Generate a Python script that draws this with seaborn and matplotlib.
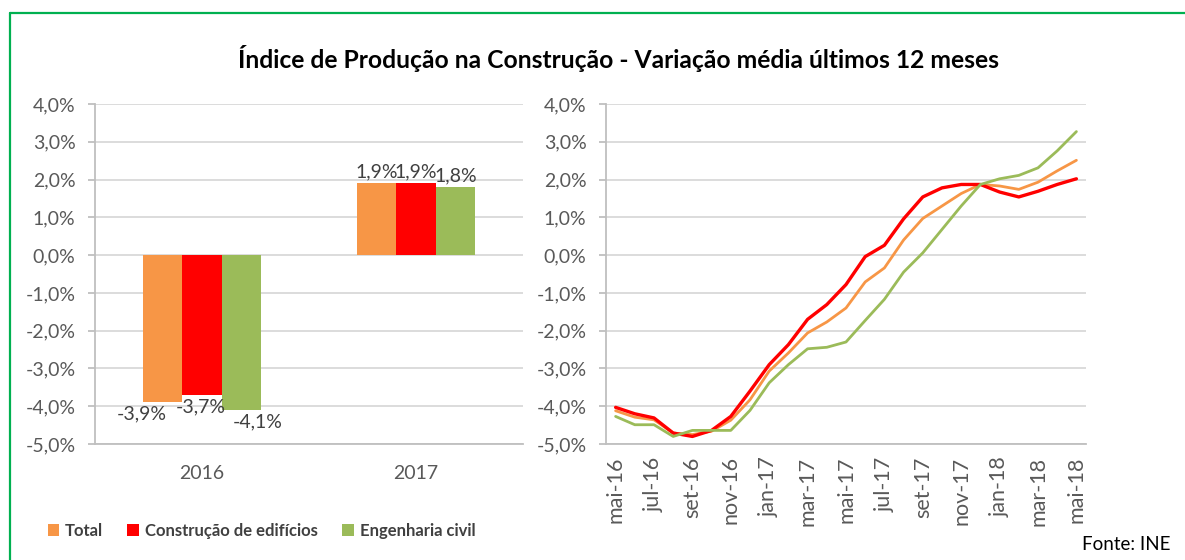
import matplotlib
matplotlib.use("Agg")
import matplotlib.pyplot as plt
from matplotlib.patches import Patch
from matplotlib.lines import Line2D
import seaborn as sns
import pandas as pd
import numpy as np

# ---------------- data ----------------
series_names = ["Total", "Construção de edifícios", "Engenharia civil"]
series_colors = ["#F79646", "#FF0000", "#9BBB59"]

bar_years = ["2016", "2017"]
bar_total = [-3.9, 1.9]
bar_edificios = [-3.7, 1.9]
bar_civil = [-4.1, 1.8]

months = ["mai-16", "jun-16", "jul-16", "ago-16", "set-16", "out-16", "nov-16", "dez-16",
          "jan-17", "fev-17", "mar-17", "abr-17", "mai-17", "jun-17", "jul-17", "ago-17",
          "set-17", "out-17", "nov-17", "dez-17", "jan-18", "fev-18", "mar-18", "abr-18", "mai-18"]
line_total = [-4.12, -4.29, -4.36, -4.71, -4.75, -4.66, -4.37, -3.83, -3.07, -2.59, -2.06, -1.77,
              -1.40, -0.71, -0.34, 0.40, 0.97, 1.30, 1.63, 1.87, 1.83, 1.74, 1.93, 2.23, 2.51]
line_edificios = [-4.03, -4.20, -4.31, -4.71, -4.80, -4.64, -4.27, -3.60, -2.90, -2.37, -1.70, -1.31,
                  -0.78, -0.04, 0.26, 0.96, 1.54, 1.78, 1.87, 1.87, 1.67, 1.54, 1.69, 1.87, 2.02]
line_civil = [-4.27, -4.49, -4.49, -4.80, -4.64, -4.64, -4.64, -4.11, -3.38, -2.90, -2.48, -2.44,
              -2.30, -1.73, -1.17, -0.45, 0.06, 0.68, 1.30, 1.87, 2.02, 2.11, 2.31, 2.76, 3.27]

yticks = [4, 3, 2, 1, 0, -1, -2, -3, -4, -5]

title = "Índice de Produção na Construção - Variação média últimos 12 meses"
source = "Fonte: INE"

# ---------------- style ----------------
sns.set_theme(style="white")
plt.rcParams["font.family"] = ["Lato", "DejaVu Sans"]

TICK_COLOR = "#595959"
LABEL_COLOR = "#404040"
GRID_COLOR = "#D9D9D9"
AXIS_COLOR = "#BFBFBF"

W, H = 1185, 560
fig = plt.figure(figsize=(W / 100, H / 100), dpi=100)

def fx(px):
    return px / W

def fy(py):
    return 1 - py / H

ax1 = fig.add_axes([fx(95), fy(444), fx(523) - fx(95), fy(104) - fy(444)])
ax2 = fig.add_axes([fx(606), fy(444), fx(1086) - fx(606), fy(104) - fy(444)])

def pct(v):
    return f"{v:.1f}%".replace(".", ",")

def style_y(ax, pad):
    ax.set_ylim(-5, 4)
    ax.set_yticks(yticks)
    ax.set_yticklabels([pct(v) for v in yticks])
    ax.yaxis.grid(True, color=GRID_COLOR, lw=1.3)
    ax.set_axisbelow(True)
    for s in ["top", "right"]:
        ax.spines[s].set_visible(False)
    for s in ["left", "bottom"]:
        ax.spines[s].set_color(AXIS_COLOR)
        ax.spines[s].set_linewidth(1.3)
    ax.tick_params(axis="y", length=5, width=1.3, color=AXIS_COLOR, pad=pad,
                   labelsize=14, labelcolor=TICK_COLOR, left=True)
    ax.set_xlabel("")
    ax.set_ylabel("")

# ---------------- bar chart ----------------
bar_df = pd.DataFrame({
    "year": bar_years * 3,
    "series": [series_names[0]] * 2 + [series_names[1]] * 2 + [series_names[2]] * 2,
    "value": bar_total + bar_edificios + bar_civil,
})
sns.barplot(data=bar_df, x="year", y="value", hue="series", hue_order=series_names,
            palette=series_colors, width=0.555, gap=0, legend=False, ax=ax1,
            saturation=1, linewidth=0)
ax1.set_xlim(-0.5, 1.5)
style_y(ax1, pad=9)
ax1.tick_params(axis="x", length=0, pad=15, labelsize=14, labelcolor=TICK_COLOR)

neg_nudge = [-21, -1, 16]
for i, cont in enumerate(ax1.containers):
    for patch in cont.patches:
        xc = patch.get_x() + patch.get_width() / 2
        lo = min(patch.get_y(), patch.get_y() + patch.get_height())
        hi = max(patch.get_y(), patch.get_y() + patch.get_height())
        if lo < 0:
            ax1.annotate(pct(lo), (xc, lo), xytext=(neg_nudge[i], -3),
                         textcoords="offset pixels", ha="center", va="top",
                         fontsize=14, color=LABEL_COLOR)
        else:
            ax1.annotate(pct(hi), (xc, hi), xytext=(0, 3),
                         textcoords="offset pixels", ha="center", va="bottom",
                         fontsize=14, color=LABEL_COLOR)

# ---------------- line chart ----------------
idx = list(range(len(months)))
line_df = pd.DataFrame({
    "idx": idx * 3,
    "series": [series_names[0]] * len(idx) + [series_names[1]] * len(idx) + [series_names[2]] * len(idx),
    "value": line_total + line_edificios + line_civil,
})
sns.lineplot(data=line_df, x="idx", y="value", hue="series", hue_order=series_names,
             palette=series_colors, legend=False, ax=ax2, sort=False, linewidth=2.1)
for ln, lw in zip(ax2.lines, [2.0, 2.4, 2.0]):
    ln.set_linewidth(lw)
ax2.set_xlim(-0.5, len(months) - 0.5)
style_y(ax2, pad=9)
ax2.set_xticks(idx[::2])
ax2.set_xticklabels(months[::2], rotation=90)
ax2.tick_params(axis="x", length=0, pad=9, labelsize=15.5, labelcolor=TICK_COLOR)

# ---------------- title, legend, source ----------------
fig.text(fx(618), fy(58), title, ha="center", va="center", fontsize=17.7,
         fontweight="bold", color="#000000")

handles = [Patch(facecolor=c, edgecolor="none", label=n) for n, c in zip(series_names, series_colors)]
leg = fig.legend(handles=handles, loc="center left", bbox_to_anchor=(fx(41), fy(531)),
                 ncol=3, frameon=False, handlelength=0.7, handleheight=0.7,
                 handletextpad=0.35, columnspacing=1.45, borderaxespad=0,
                 prop={"weight": "bold", "size": 12})
for t in leg.get_texts():
    t.set_color(LABEL_COLOR)

fig.text(fx(1171), fy(545), source, ha="right", va="center", fontsize=13.5, color="#000000")

# green frame (top and left edges)
fig.add_artist(Line2D([fx(10), 1.0], [fy(13), fy(13)], color="#00B050", lw=1.6))
fig.add_artist(Line2D([fx(10), fx(10)], [fy(13), 0.0], color="#00B050", lw=1.6))

fig.savefig("out.png", dpi=100)
